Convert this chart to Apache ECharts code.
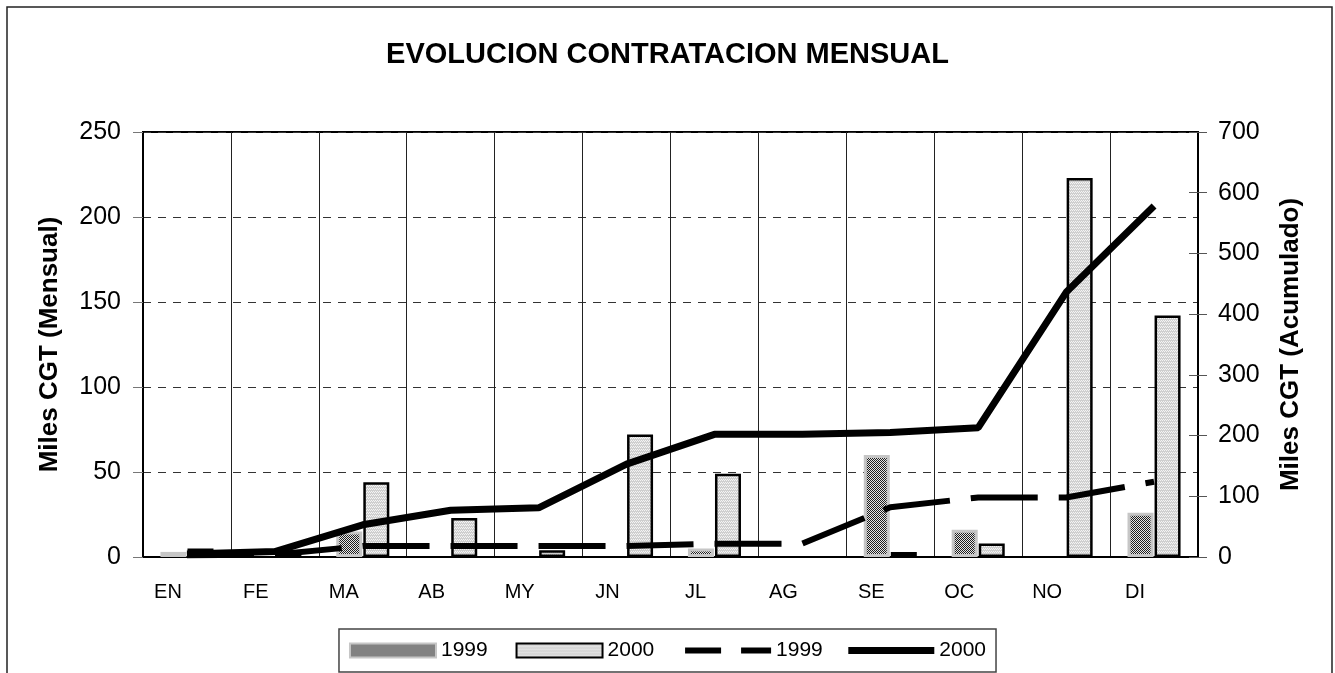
<!DOCTYPE html>
<html>
<head>
<meta charset="utf-8">
<script src="https://cdn.jsdelivr.net/npm/echarts@6/dist/echarts.min.js"></script>
<style>
html, body { margin: 0; padding: 0; background: #fff; }
#chart { width: 1335px; height: 673px; }
</style>
</head>
<body>
<div id="chart"></div>
<script>
var meses = ['EN', 'FE', 'MA', 'AB', 'MY', 'JN', 'JL', 'AG', 'SE', 'OC', 'NO', 'DI'];
// null = mes sin contratacion (no se dibuja barra)
var mensual1999 = [3, null, 15, null, null, null, 5, null, 60, 16, null, 26];
var mensual2000 = [5, 3, 44, 23, 4, 72, 49, null, 3, 8, 223, 142];
var acum1999 = [3, 4, 18, 18, 18, 18, 22, 22, 82, 98, 98, 124];
var acum2000 = [5, 9, 53, 77, 81, 153, 202, 202, 205, 213, 436, 578];
var ticksMensual = [0, 50, 100, 150, 200, 250];
var ticksAcum = [0, 100, 200, 300, 400, 500, 600, 700];

// tramas de relleno tipo Excel
function trama(w, h, fondo, tinta, puntos) {
    var c = document.createElement('canvas');
    c.width = w; c.height = h;
    var ctx = c.getContext('2d');
    ctx.fillStyle = fondo;
    ctx.fillRect(0, 0, w, h);
    ctx.fillStyle = tinta;
    puntos.forEach(function (p) { ctx.fillRect(p[0], p[1], 1, 1); });
    return c;
}
var trama1999 = trama(2, 2, '#e6e6e6', '#1e1e1e', [[0, 0], [1, 1]]);
var trama2000 = trama(4, 3, '#cfcfcf', '#f4f4f4', [[0, 0], [2, 0], [1, 2], [3, 2]]);

var fuente = 'Liberation Sans, Arial, sans-serif';
var myChart = echarts.init(document.getElementById('chart'));
var option = {
    animation: false,
    backgroundColor: '#fff',
    title: {
        text: 'EVOLUCION CONTRATACION MENSUAL',
        left: 'center',
        top: 35,
        textStyle: { fontFamily: fuente, fontSize: 29, fontWeight: 'bold', color: '#000' }
    },
    graphic: [{
        type: 'rect',
        shape: { x: 7, y: 7, width: 1325, height: 700 },
        style: { fill: 'none', stroke: '#222', lineWidth: 1.5 },
        silent: true
    }],
    legend: {
        left: 'center',
        top: 629,
        itemWidth: 86,
        itemHeight: 14,
        itemGap: 22,
        padding: [11, 10],
        borderColor: '#444',
        borderWidth: 1.5,
        textStyle: { fontFamily: fuente, fontSize: 21, color: '#000' },
        data: [
            { name: '1999 ', icon: 'rect' },
            { name: '2000 ', icon: 'rect' },
            { name: '1999', lineStyle: { type: [36, 20], width: 6 }, itemStyle: { opacity: 0 } },
            { name: '2000', lineStyle: { width: 7 }, itemStyle: { opacity: 0 } }
        ]
    },
    grid: {
        left: 143, right: 137, top: 132, bottom: 116,
        show: true, borderColor: '#000', borderWidth: 2
    },
    xAxis: {
        type: 'category',
        data: meses,
        boundaryGap: true,
        axisLine: { lineStyle: { color: '#000', width: 2 } },
        axisTick: { length: 6, lineStyle: { color: '#000' } },
        axisLabel: { fontFamily: fuente, fontSize: 20, color: '#000', margin: 25, padding: [0, 38, 0, 0] },
        splitLine: { show: true, lineStyle: { color: '#222', width: 1 } }
    },
    yAxis: [{
        type: 'value',
        min: ticksMensual[0],
        max: ticksMensual[ticksMensual.length - 1],
        interval: 50,
        name: 'Miles CGT (Mensual)',
        nameLocation: 'middle',
        nameGap: 80,
        nameTextStyle: { fontFamily: fuente, fontSize: 26, fontWeight: 'bold', color: '#000' },
        axisLine: { show: true, lineStyle: { color: '#000', width: 2 } },
        axisTick: { show: true, length: 10, lineStyle: { color: '#777' } },
        axisLabel: { fontFamily: fuente, fontSize: 25, color: '#000', margin: 22 },
        splitLine: { show: true, lineStyle: { color: '#333', type: [8, 7], width: 1 } }
    }, {
        type: 'value',
        position: 'right',
        min: ticksAcum[0],
        max: ticksAcum[ticksAcum.length - 1],
        interval: 100,
        name: 'Miles CGT (Acumulado)',
        nameLocation: 'middle',
        nameGap: 80,
        nameRotate: 90,
        nameTextStyle: { fontFamily: fuente, fontSize: 26, fontWeight: 'bold', color: '#000' },
        axisLine: { show: true, lineStyle: { color: '#000', width: 2 } },
        axisTick: { show: true, length: 9, lineStyle: { color: '#555' } },
        axisLabel: { fontFamily: fuente, fontSize: 25, color: '#000', margin: 20 },
        splitLine: { show: false }
    }, {
        type: 'value',
        position: 'right',
        min: ticksAcum[0],
        max: ticksAcum[ticksAcum.length - 1],
        interval: 100,
        axisLine: { show: false },
        axisTick: { show: true, inside: true, length: 9, lineStyle: { color: '#555' } },
        axisLabel: { show: false },
        splitLine: { show: false }
    }],
    series: [{
        name: '1999 ',
        type: 'bar',
        data: mensual1999,
        barWidth: 26,
        barGap: '4%',
        itemStyle: { color: { image: trama1999, repeat: 'repeat' }, borderColor: '#c6c6c6', borderWidth: 3 }
    }, {
        name: '2000 ',
        type: 'bar',
        data: mensual2000,
        barWidth: 26,
        itemStyle: { color: { image: trama2000, repeat: 'repeat' }, borderColor: '#000', borderWidth: 2.5 }
    }, {
        name: '1999',
        type: 'line',
        yAxisIndex: 1,
        data: acum1999,
        symbol: 'none',
        lineStyle: { color: '#000', width: 6, type: [67, 21], cap: 'butt' },
        itemStyle: { color: '#000' }
    }, {
        name: '2000',
        type: 'line',
        yAxisIndex: 1,
        data: acum2000,
        symbol: 'none',
        lineStyle: { color: '#000', width: 7, cap: 'butt' },
        itemStyle: { color: '#000' }
    }]
};
myChart.setOption(option);
</script>
</body>
</html>
